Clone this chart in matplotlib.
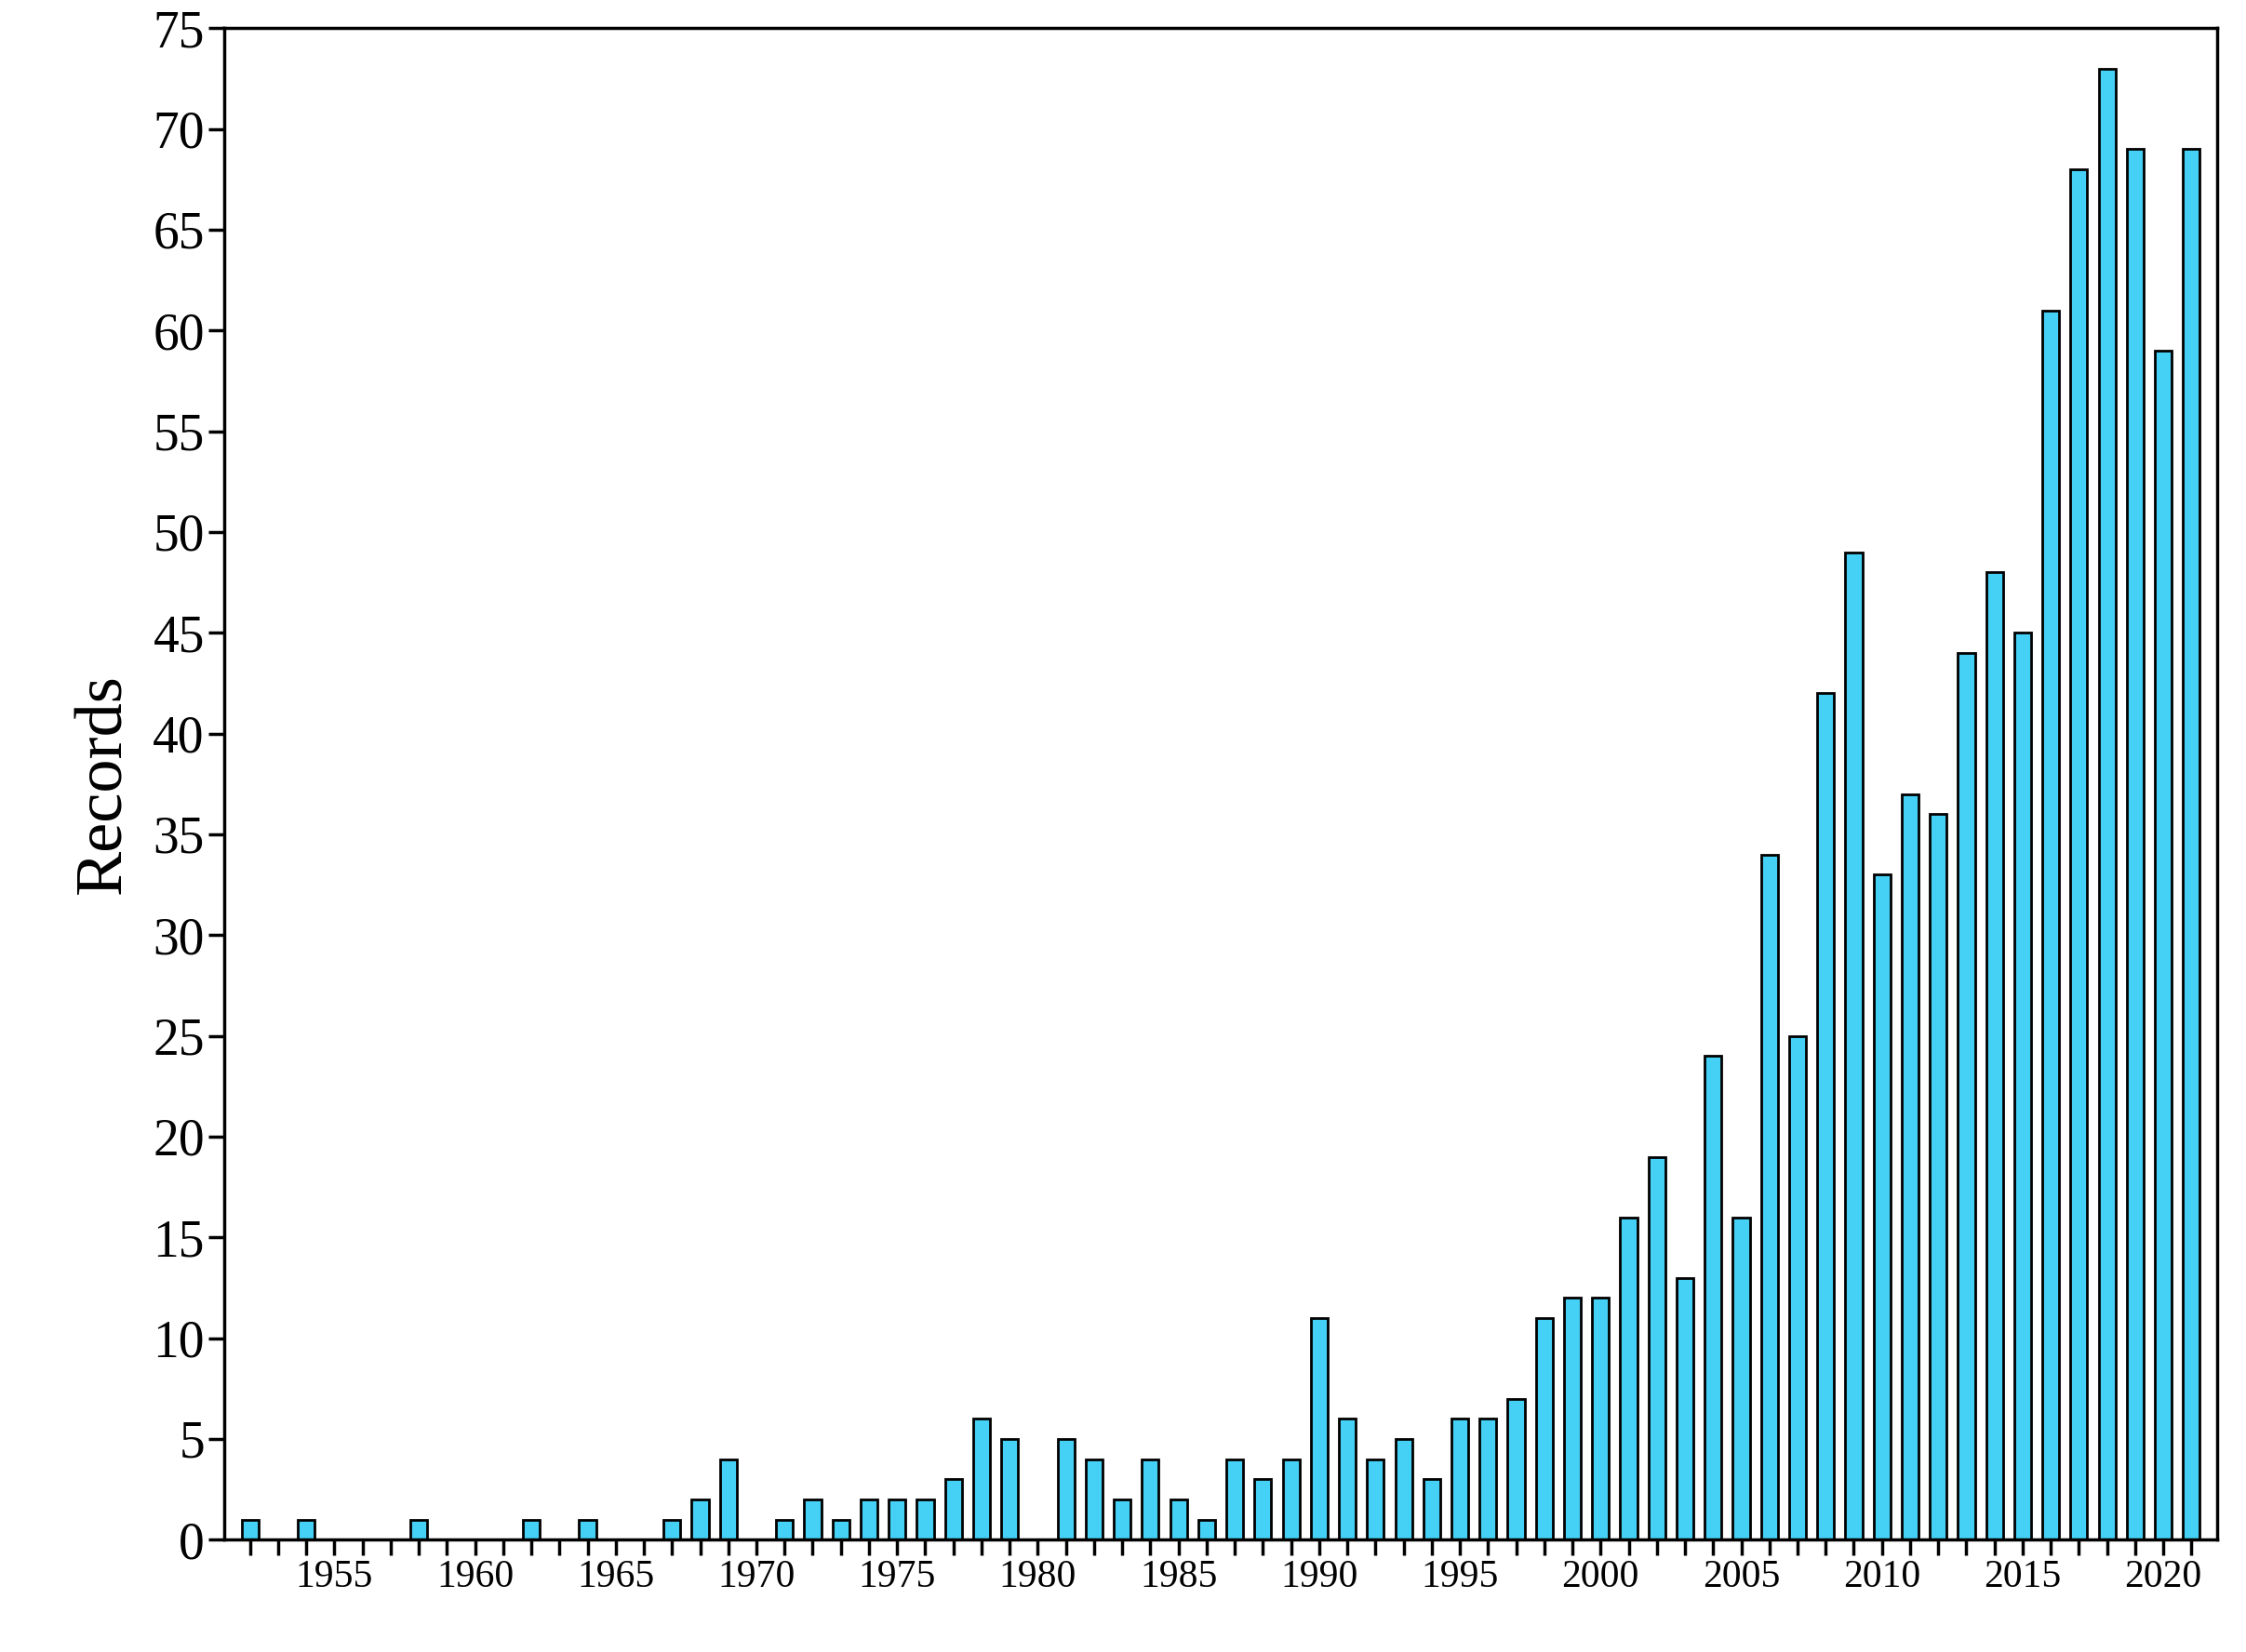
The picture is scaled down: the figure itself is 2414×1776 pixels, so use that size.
import matplotlib.pyplot as plt
from matplotlib.ticker import MultipleLocator

years = list(range(1952, 2022))
records = [1, 0, 1, 0, 0, 0, 1, 0, 0, 0, 1, 0, 1, 0, 0, 1, 2, 4, 0, 1,
           2, 1, 2, 2, 2, 3, 6, 5, 0, 5, 4, 2, 4, 2, 1, 4, 3, 4, 11, 6,
           4, 5, 3, 6, 6, 7, 11, 12, 12, 16, 19, 13, 24, 16, 34, 25, 42, 49, 33, 37,
           36, 44, 48, 45, 61, 68, 73, 69, 59, 69]

plt.rcParams["font.family"] = ["Liberation Serif", "DejaVu Serif"]

fig = plt.figure(figsize=(24.14, 17.76), dpi=100)
ax = fig.add_axes([0.100, 0.068, 0.887, 0.915])

ax.bar(years, records, width=0.6, color="#45D0F5", edgecolor="black", linewidth=2)

ax.set_xlim(1951.1, 2021.9)
ax.set_ylim(0, 75)
ax.xaxis.set_major_locator(MultipleLocator(5))
ax.xaxis.set_minor_locator(MultipleLocator(1))
ax.yaxis.set_major_locator(MultipleLocator(5))
ax.tick_params(axis="x", which="major", labelsize=30, length=12, width=2.5, direction="out")
ax.tick_params(axis="x", which="minor", length=12, width=2.5, direction="out")
ax.tick_params(axis="y", labelsize=40, length=12, width=2.5, direction="out")
ax.set_xticks([y for y in range(1955, 2021, 5)])
for s in ax.spines.values():
    s.set_linewidth(2.5)
ax.set_ylabel("Records", fontsize=52, labelpad=14)

fig.savefig("out.png", dpi=100)
